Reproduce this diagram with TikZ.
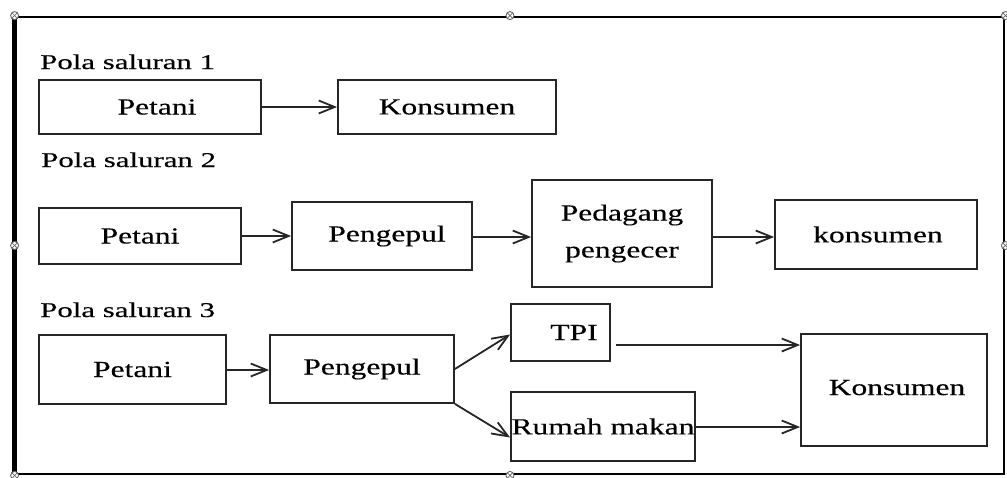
\documentclass[tikz,border=0pt]{standalone}
\usepackage{fontspec}
\setmainfont{Liberation Serif}
\newfontfamily\boxfont[FakeStretch=1.37,FakeBold=0.3]{Liberation Serif}
\newfontfamily\titlefont[FakeStretch=1.47,FakeBold=0.3]{Liberation Serif}
\usetikzlibrary{arrows.meta}
\begin{document}
\begin{tikzpicture}[x=1pt,y=-1pt,
  box/.style={draw=black!85, line width=1.8pt, rectangle, inner sep=0pt,
    font=\boxfont\fontsize{23}{37}\selectfont, text=black, align=center},
  title/.style={font=\titlefont\fontsize{21}{25}\selectfont, inner sep=0pt,
    anchor=base west, text=black},
  arr/.style={draw=black!85, line width=1.8pt,
    -{Straight Barb[length=16pt,width=13pt,line width=1.8pt]}},
  frameline/.style={draw=black, line width=2.8pt, rectangle, inner sep=0pt},
  handle/.style={draw=black!60, fill=white, line width=0.9pt}]
\useasboundingbox (0,0) rectangle (1007,477);

% frame
\node[frameline, minimum width=988pt, minimum height=457pt] (frame) at (510,245.5) {};
\draw[line width=4.5pt] (frame.north west) -- (frame.south west);
\foreach \a in {north west,north,north east,west,east,south west,south} {
  \draw[handle] (frame.\a) circle (4pt);
  \draw[black!60, line width=0.7pt] ([shift={(-2.7pt,-2.7pt)}]frame.\a) -- ([shift={(2.7pt,2.7pt)}]frame.\a);
  \draw[black!60, line width=0.7pt] ([shift={(-2.7pt,2.7pt)}]frame.\a) -- ([shift={(2.7pt,-2.7pt)}]frame.\a);
}

% titles
\node[title] (t1) at (40,69) {Pola saluran 1};
\node[title] (t2) at (41,167) {Pola saluran 2};
\node[title] (t3) at (40,317) {Pola saluran 3};

% row 1
\node[box, minimum width=222pt, minimum height=54pt] (p1) at (150,107) {\hspace*{14pt}Petani};
\node[box, minimum width=218pt, minimum height=54pt] (k1) at (447,107) {Konsumen};
\draw[arr] (p1.east) -- (k1.west);

% row 2
\node[box, minimum width=202pt, minimum height=56pt] (p2) at (140,236) {Petani};
\node[box, minimum width=180pt, minimum height=68pt] (pg2) at (382,236) {\hspace*{10pt}Pengepul};
\node[box, minimum width=180pt, minimum height=107pt] (pd) at (622,233.5) {Pedagang\\pengecer};
\node[box, minimum width=202pt, minimum height=69pt] (k2) at (876,234.5) {\hspace*{4pt}konsumen};
\draw[arr] (p2.east) -- (p2.east -| pg2.west);
\draw[arr] ([yshift=-1pt]pg2.east) -- ([yshift=-1pt]pg2.east -| pd.west);
\draw[arr] ([yshift=-3.5pt]pd.east) -- ([yshift=-3.5pt]pd.east -| k2.west);

% row 3
\node[box, minimum width=187pt, minimum height=69pt] (p3) at (132.5,369.5) {Petani};
\node[box, minimum width=184pt, minimum height=68pt] (pg3) at (362,369) {Pengepul};
\node[box, minimum width=99pt, minimum height=57pt] (tpi) at (560.5,332.5) {\hspace*{27pt}TPI};
\node[box, minimum width=184pt, minimum height=69pt] (rm) at (603,426.5) {Rumah makan};
\node[box, minimum width=186pt, minimum height=112pt] (k3) at (894,390) {\raisebox{5pt}{\hspace*{6pt}Konsumen}};
\draw[arr] ([yshift=-0.5pt]p3.east) -- ([yshift=-0.5pt]p3.east -| pg3.west);
\draw[arr] (pg3.east) -- ([yshift=-2pt]tpi.west);
\draw[arr] (pg3.south east) -- ([yshift=-11pt]rm.west);
\draw[arr] ([xshift=5pt,yshift=-12.5pt]tpi.east) -- ([yshift=-12.5pt]tpi.east -| k3.west);
\draw[arr] ([yshift=-0.5pt]rm.east) -- ([yshift=-0.5pt]rm.east -| k3.west);
\end{tikzpicture}
\end{document}
